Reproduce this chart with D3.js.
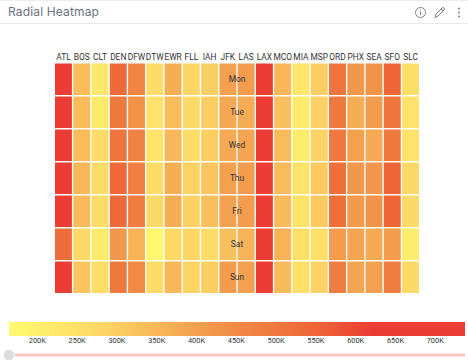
<!DOCTYPE html>
<html>
<head>
<meta charset="utf-8">
<script src="https://cdn.jsdelivr.net/npm/d3@7"></script>
<style>
  html, body { margin: 0; padding: 0; background: #fff; }
  svg { display: block; font-family: Roboto, "Liberation Sans", sans-serif; }
</style>
</head>
<body>
<svg id="chart" width="468" height="362"></svg>
<script>
const airports = ["ATL", "BOS", "CLT", "DEN", "DFW", "DTW", "EWR", "FLL", "IAH", "JFK", "LAS", "LAX", "MCO", "MIA", "MSP", "ORD", "PHX", "SEA", "SFO", "SLC"];
const days = ["Mon", "Tue", "Wed", "Thu", "Fri", "Sat", "Sun"];

// one row per airport, Mon..Sun
const values = [
  [680, 680, 680, 680, 680, 530, 680],
  [340, 340, 340, 350, 345, 270, 320],
  [225, 215, 260, 265, 265, 215, 255],
  [540, 500, 510, 545, 540, 420, 500],
  [465, 430, 470, 480, 490, 360, 450],
  [260, 245, 240, 265, 270, 175, 265],
  [370, 340, 350, 370, 370, 275, 350],
  [280, 270, 265, 290, 295, 280, 285],
  [300, 300, 300, 320, 330, 265, 300],
  [400, 385, 380, 400, 400, 330, 410],
  [410, 375, 390, 410, 410, 360, 400],
  [680, 680, 680, 680, 680, 640, 680],
  [350, 330, 340, 340, 345, 360, 345],
  [230, 220, 210, 245, 245, 250, 250],
  [300, 295, 290, 310, 310, 250, 290],
  [510, 500, 500, 525, 525, 410, 490],
  [420, 370, 400, 420, 415, 390, 390],
  [430, 410, 380, 420, 430, 380, 400],
  [550, 510, 500, 550, 550, 410, 490],
  [255, 245, 245, 270, 270, 210, 270]
];

const legendTicks = [200, 250, 300, 350, 400, 450, 500, 550, 600, 650, 700];
const colorStops = [165, 280, 450, 550, 620, 738];
const colorRange = ["#fffb70", "#fdd766", "#f08a46", "#ee6637", "#eb3d35", "#eb3d35"];

const svg = d3.select("#chart");

const color = d3.scaleLinear().domain(colorStops).range(colorRange);

// header bar
svg.append("line").attr("x1", 0).attr("x2", 468).attr("y1", 0.5).attr("y2", 0.5).attr("stroke", "#eeeef0");
svg.append("line").attr("x1", 0).attr("x2", 468).attr("y1", 23.5).attr("y2", 23.5).attr("stroke", "#e8e8ea");
svg.append("text")
  .attr("x", 8)
  .attr("y", 16)
  .attr("font-family", "Inter, sans-serif")
  .attr("font-size", 12)
  .attr("letter-spacing", 0.15)
  .attr("fill", "#6a7080")
  .text("Radial Heatmap");

// info, edit and menu icons
const icons = svg.append("g").attr("fill", "none").attr("stroke", "#6f7480").attr("stroke-width", 0.9);
icons.append("circle").attr("cx", 420.5).attr("cy", 12.5).attr("r", 5);
icons.append("path").attr("d", "M420.5 11.5v3.4M420.5 9.6v0.9");
icons.append("path").attr("d", "M435 17.5l1-3.5 6-6a1.3 1.3 0 0 1 2 2l-6 6z M441 9l2 2");
svg.append("g").attr("fill", "#6f7480")
  .selectAll("circle")
  .data([8.5, 12.5, 16.5])
  .join("circle")
  .attr("cx", 459)
  .attr("cy", (d) => d)
  .attr("r", 0.9);

// heatmap
const x = d3.scaleBand().domain(airports).range([55, 419]).paddingInner(0.075).paddingOuter(0);
const y = d3.scaleBand().domain(days).range([63.5, 293]).paddingInner(0.045).paddingOuter(0);

const cells = [];
airports.forEach((a, i) => {
  days.forEach((d, j) => {
    cells.push({ airport: a, day: d, val: values[i][j] });
  });
});

svg.append("g")
  .selectAll("rect")
  .data(cells)
  .join("rect")
  .attr("x", (d) => x(d.airport))
  .attr("y", (d) => y(d.day))
  .attr("width", x.bandwidth())
  .attr("height", y.bandwidth())
  .attr("fill", (d) => color(d.val));

// airport labels
svg.append("g")
  .selectAll("text")
  .data(airports)
  .join("text")
  .attr("x", (d) => x(d) + x.bandwidth() / 2)
  .attr("y", 60)
  .attr("text-anchor", "middle")
  .attr("font-size", 8.4)
  .attr("fill", "#333")
  .text((d) => d);

// day labels sit in the middle of the grid
svg.append("g")
  .selectAll("text")
  .data(days)
  .join("text")
  .attr("x", 237)
  .attr("y", (d) => y(d) + y.bandwidth() / 2 + 3)
  .attr("text-anchor", "middle")
  .attr("font-size", 8.4)
  .attr("fill", "#333")
  .text((d) => d);

// legend
const legendX = d3.scaleLinear().domain([165, 738]).range([9, 465]);

const gradient = svg.append("defs")
  .append("linearGradient")
  .attr("id", "legend-gradient");
gradient.selectAll("stop")
  .data(colorStops)
  .join("stop")
  .attr("offset", (d) => (d - 165) / (738 - 165))
  .attr("stop-color", (d) => color(d));

svg.append("rect")
  .attr("x", legendX(165))
  .attr("y", 322)
  .attr("width", legendX(738) - legendX(165))
  .attr("height", 14)
  .attr("fill", "url(#legend-gradient)");

const legendAxis = svg.append("g")
  .attr("transform", "translate(0,336)")
  .call(d3.axisBottom(legendX).tickValues(legendTicks).tickSize(0).tickPadding(2).tickFormat((d) => d + "K"));
legendAxis.select(".domain").remove();
legendAxis.selectAll("text")
  .attr("font-family", "Roboto, 'Liberation Sans', sans-serif")
  .attr("font-size", 7.4)
  .attr("fill", "#333");

// slider
svg.append("rect")
  .attr("x", legendX(165) + 6)
  .attr("y", 353.5)
  .attr("width", legendX(738) - legendX(165) - 6)
  .attr("height", 3)
  .attr("fill", "#f8c5c1");
svg.append("circle")
  .attr("cx", 9)
  .attr("cy", 355)
  .attr("r", 5.2)
  .attr("fill", "#dcdcdc");
</script>
</body>
</html>
